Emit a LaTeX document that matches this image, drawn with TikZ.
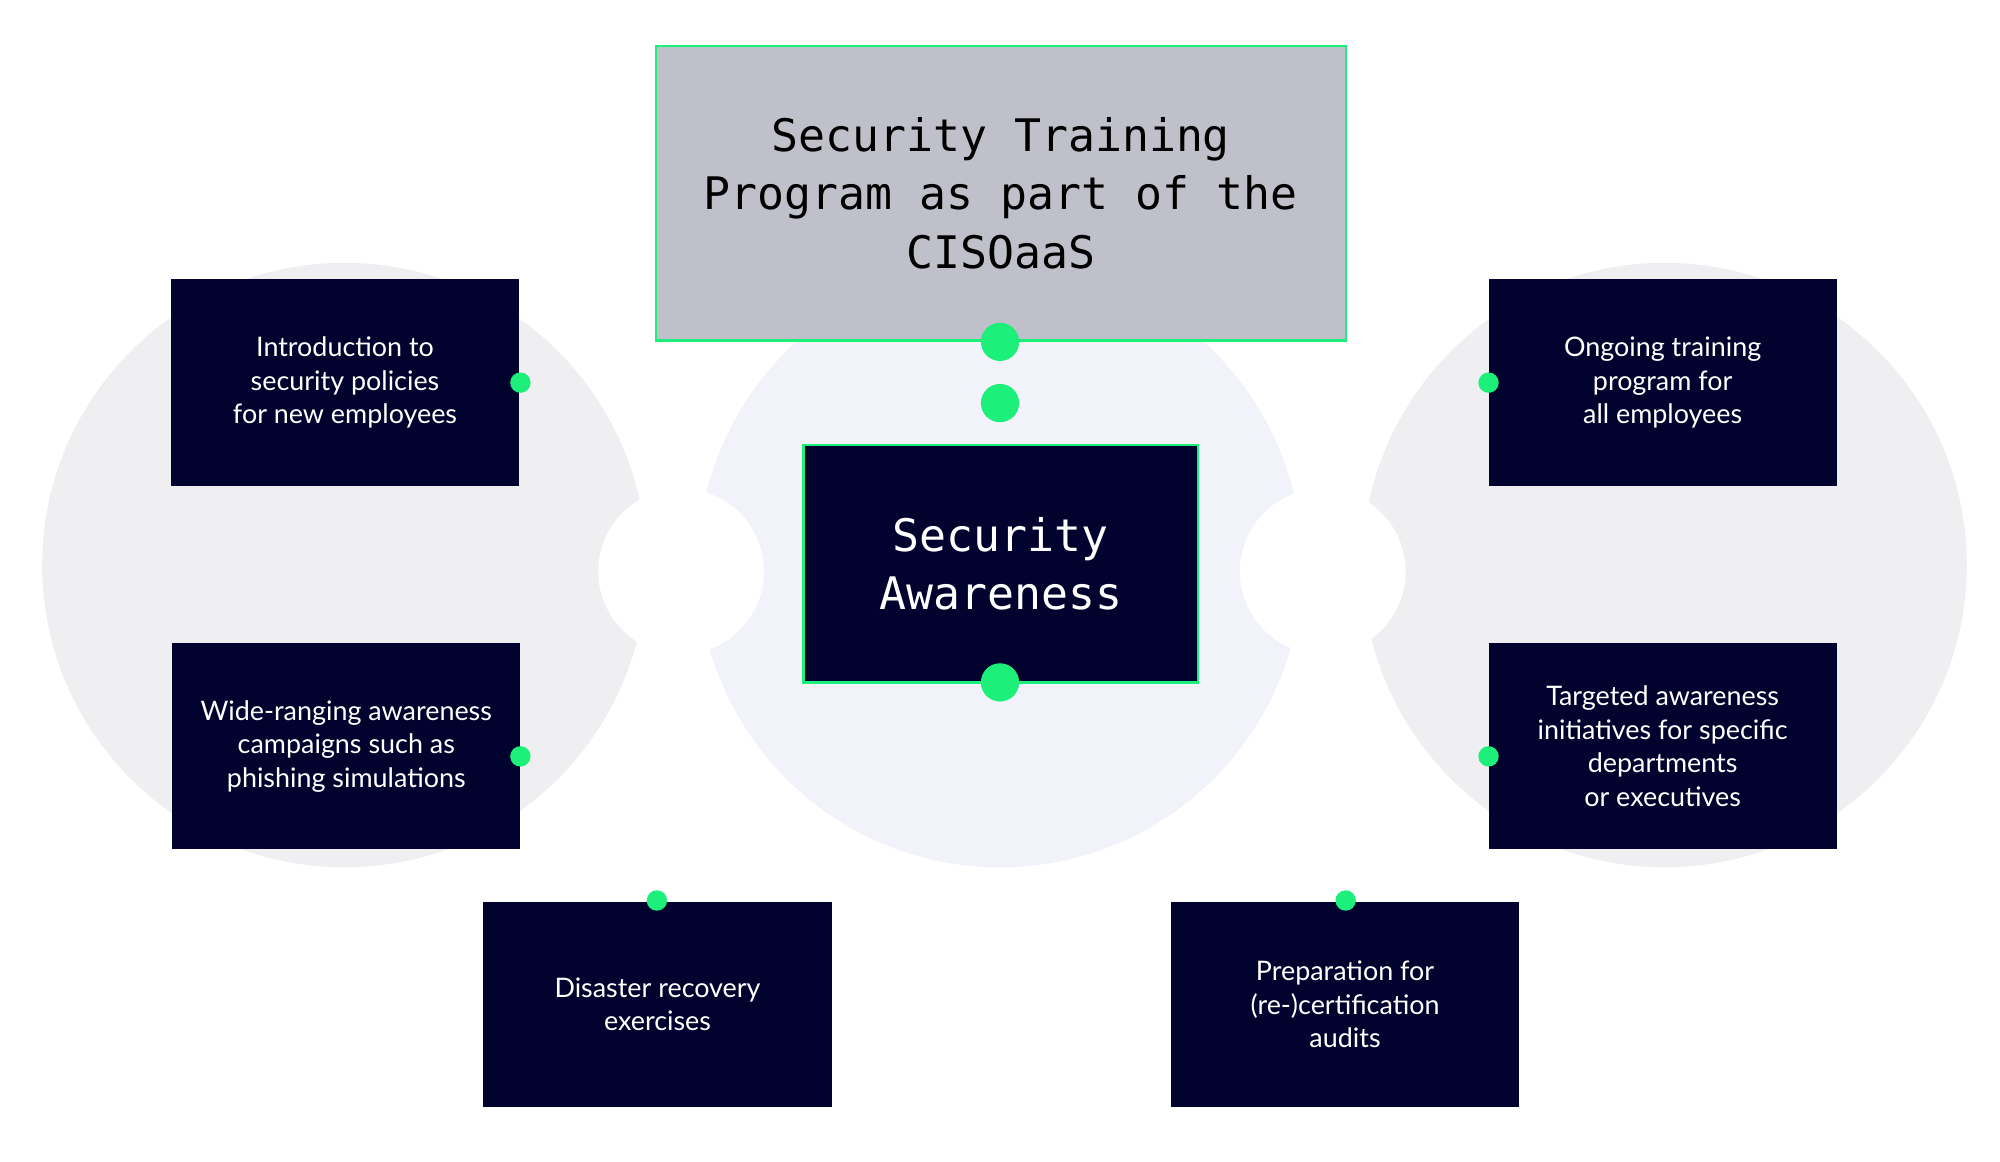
\documentclass[tikz,border=0pt]{standalone}
\usepackage{fontspec}
\setmainfont{Lato}
\newfontfamily\monof{DejaVu Sans Mono}
\definecolor{navy}{HTML}{02022E}
\definecolor{grn}{HTML}{1CF07A}
\definecolor{lgrey}{HTML}{EFEFF1}
\definecolor{lav}{HTML}{F1F2FA}
\definecolor{tgrey}{HTML}{C0C0CA}
\begin{document}
\begin{tikzpicture}[x=0.02cm,y=-0.02cm,
  item/.style={fill=navy,text=white,align=center,font=\fontsize{12}{15}\selectfont,inner sep=0pt},
  bigdot/.style={circle,fill=grn,minimum size=0.6cm,inner sep=0pt},
  smalldot/.style={circle,fill=grn,minimum size=0.32cm,inner sep=0pt}]
\useasboundingbox (0,0) rectangle (1568,911);
\fill[lgrey] (270,443) circle[radius=4.74cm];
\fill[lgrey] (1305,443) circle[radius=4.74cm];
\fill[lav] (784,443) circle[radius=4.74cm];
\fill[white] (534,448) circle[radius=1.3cm];
\fill[white] (1037,448) circle[radius=1.3cm];
\node[draw=grn,line width=1pt,fill=tgrey,minimum width=541*0.02cm,minimum height=231*0.02cm,align=center,font=\monof\fontsize{20}{26}\selectfont] (title) at (784.5,151.5) {Security Training\\Program as part of the\\CISOaaS};
\node[draw=grn,line width=1pt,fill=navy,text=white,minimum width=309*0.02cm,minimum height=186*0.02cm,align=center,font=\monof\fontsize{20}{26}\selectfont] (center) at (784.5,442) {Security\\Awareness};
\node[bigdot] (d1) at (784,268) {};
\node[bigdot] (d2) at (784,316) {};
\node[bigdot] (d3) at (784,535) {};
\node[item,minimum width=273*0.02cm,minimum height=162*0.02cm] (b1) at (270.5,300) {Introduction to\\security policies\\for new employees};
\node[item,minimum width=273*0.02cm,minimum height=162*0.02cm] (b2) at (271.5,585) {Wide-ranging awareness\\campaigns such as\\phishing simulations};
\node[item,minimum width=273*0.02cm,minimum height=161*0.02cm] (b3) at (515.5,787.5) {Disaster recovery\\exercises};
\node[item,minimum width=273*0.02cm,minimum height=161*0.02cm] (b4) at (1054.5,787.5) {Preparation for\\(re-)certification\\audits};
\node[item,minimum width=273*0.02cm,minimum height=162*0.02cm] (b5) at (1303.5,300) {Ongoing training\\program for\\all employees};
\node[item,minimum width=273*0.02cm,minimum height=162*0.02cm] (b6) at (1303.5,585) {Targeted awareness\\initiatives for specific\\departments\\or executives};
\node[smalldot] (s1) at (408,300) {};
\node[smalldot] (s2) at (408,593) {};
\node[smalldot] (s3) at (515,706) {};
\node[smalldot] (s4) at (1055,706) {};
\node[smalldot] (s5) at (1167,300) {};
\node[smalldot] (s6) at (1167,593) {};
\end{tikzpicture}
\end{document}
